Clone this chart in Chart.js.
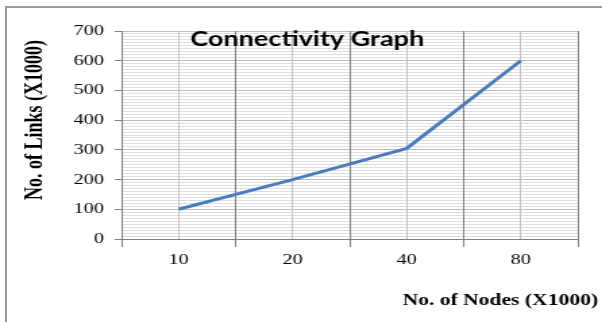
<!DOCTYPE html>
<html>
<head>
<meta charset="utf-8">
<script src="https://cdn.jsdelivr.net/npm/chart.js@4.4.1/dist/chart.umd.min.js"></script>
<style>
  html, body { margin: 0; padding: 0; background: #fff; }
  #sarici { position: relative; width: 602px; height: 322px; overflow: hidden; background: #fff; }
  #cerceve { position: absolute; left: 5px; top: 6px; width: 700px; height: 400px;
             border-left: 2px solid #9a9a9a; border-top: 2px solid #9a9a9a; }
  #grafik { position: absolute; left: 0; top: 0; transform: scaleX(1.35); transform-origin: 0 0; }
</style>
</head>
<body>
<div id="sarici">
  <div id="cerceve"></div>
  <canvas id="grafik" width="446" height="322"></canvas>
</div>
<script>
/* VERILER */
var dugumSayilari = ['10', '20', '40', '80'];
var baglantiSayilari = [100, 200, 305, 600];
var grafikBasligi = 'Connectivity Graph';
var xEkseniBasligi = 'No. of Nodes (X1000)';
var yEkseniBasligi = 'No. of Links (X1000)';

var noktalar = [];
for (var i = 0; i < dugumSayilari.length; i++) {
  noktalar.push({x: i + 0.5, y: baglantiSayilari[i]});
}

/* BASLIKLARI CIZEN EKLENTI */
var basliklar = {
  id: 'basliklar',
  afterDraw: function (chart) {
    var ctx = chart.ctx;
    ctx.save();
    ctx.fillStyle = '#000';
    ctx.textBaseline = 'alphabetic';
    ctx.textAlign = 'left';
    ctx.font = 'bold 20px Lato';
    ctx.fillText(grafikBasligi, 141, 46);

    ctx.font = 'bold 16px "Liberation Serif"';
    ctx.textAlign = 'right';
    ctx.fillText(xEkseniBasligi, 443, 305);

    ctx.translate(31, 120);
    ctx.rotate(-Math.PI / 2);
    ctx.textAlign = 'center';
    ctx.font = 'bold 18px "Liberation Serif"';
    ctx.fillText(yEkseniBasligi, 0, 0);
    ctx.restore();
  }
};

var ctx = document.getElementById('grafik');
var myChart = new Chart(ctx, {
  type: 'line',
  data: {
    datasets: [{
      label: 'Links',
      data: noktalar,
      borderColor: '#4a7ebb',
      borderWidth: 3,
      pointRadius: 0,
      tension: 0
    }]
  },
  options: {
    responsive: false,
    animation: false,
    devicePixelRatio: 1,
    layout: { padding: {top: 31, right: 18, bottom: 0, left: 0} },
    plugins: { legend: {display: false}, tooltip: {enabled: false}, title: {display: false} },
    scales: {
      x: {
        type: 'linear',
        min: 0,
        max: dugumSayilari.length,
        afterFit: function (scale) { scale.height = 83; },
        ticks: {
          stepSize: 0.5,
          autoSkip: false,
          maxRotation: 0,
          padding: 4,
          color: '#000',
          font: {family: '"Liberation Serif"', size: 15},
          callback: function (v) {
            if (Number.isInteger(v)) return '';
            return dugumSayilari[Math.floor(v)];
          }
        },
        grid: {
          z: 0,
          tickLength: 8,
          color: function (c) { return Number.isInteger(c.tick.value) ? '#808080' : '#c4c4c4'; },
          tickColor: function (c) { return Number.isInteger(c.tick.value) ? '#808080' : 'rgba(0,0,0,0)'; }
        },
        border: {color: '#808080'}
      },
      y: {
        min: 0,
        max: 700,
        afterFit: function (scale) { scale.width = 90; },
        ticks: {
          stepSize: 10,
          maxTicksLimit: 200,
          autoSkip: false,
          padding: 8,
          color: '#000',
          font: {family: '"Liberation Serif"', size: 15},
          callback: function (v) { return v % 100 === 0 ? v : ''; }
        },
        grid: {
          z: -1,
          tickLength: 5,
          color: function (c) { return c.tick.value % 100 === 0 ? '#bdbdbd' : '#dedede'; },
          tickColor: function (c) { return c.tick.value % 100 === 0 ? '#808080' : 'rgba(0,0,0,0)'; }
        },
        border: {color: '#808080'}
      }
    }
  },
  plugins: [basliklar]
});
</script>
</body>
</html>
